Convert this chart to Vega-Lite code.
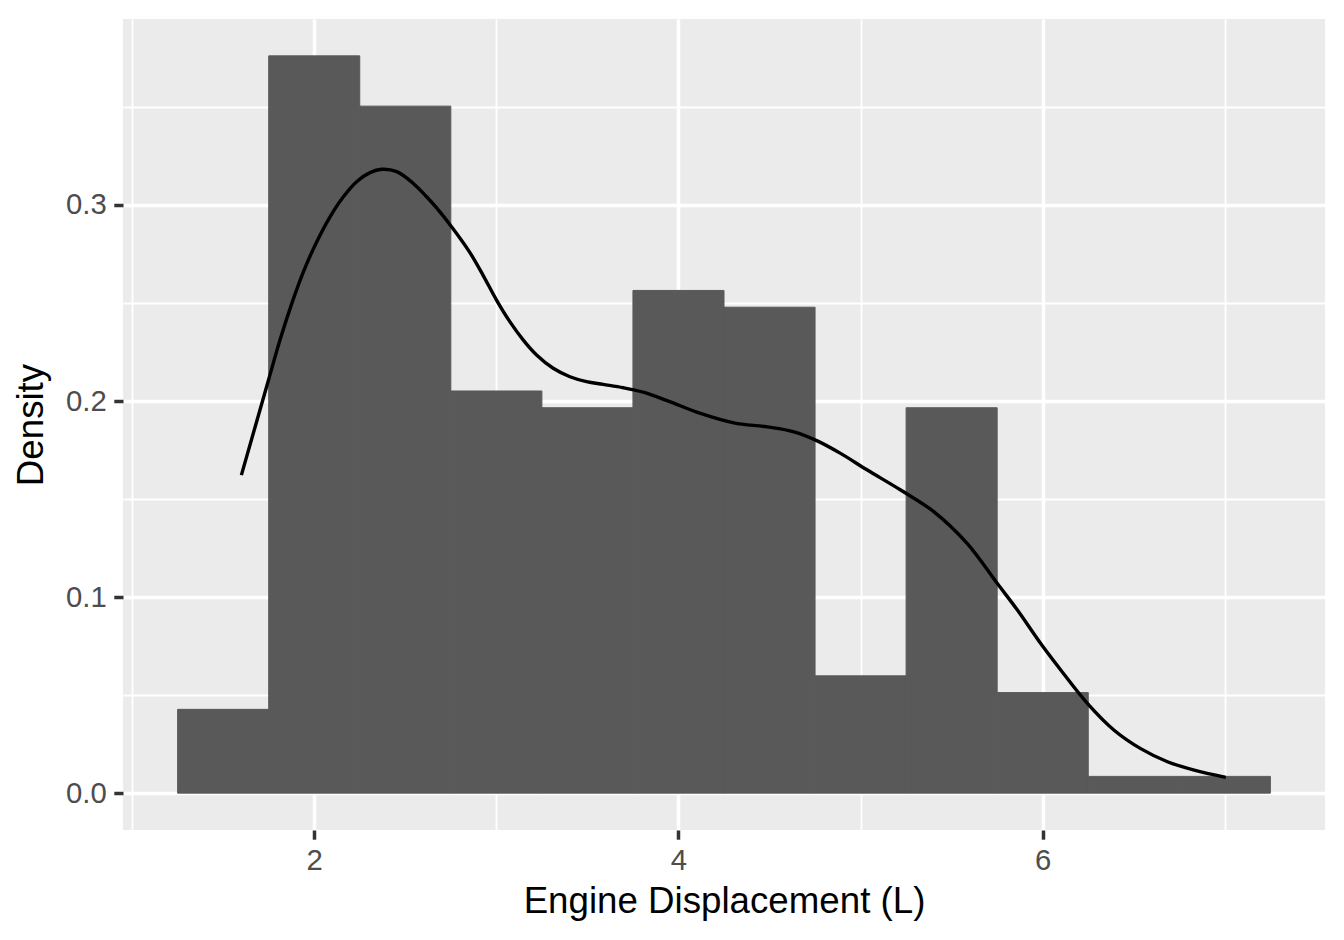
{
  "$schema": "https://vega.github.io/schema/vega-lite/v6.json",
  "width": 1202,
  "height": 811,
  "autosize": "none",
  "padding": {"left": 123, "top": 19, "right": 19, "bottom": 110},
  "background": "white",
  "config": {
    "view": {"fill": "#EBEBEB", "stroke": null},
    "font": "Liberation Sans"
  },
  "datasets": {
    "bins": [
      {"start": 1.25, "end": 1.75, "density": 0.042735},
      {"start": 1.75, "end": 2.25, "density": 0.376068},
      {"start": 2.25, "end": 2.75, "density": 0.350427},
      {"start": 2.75, "end": 3.25, "density": 0.205128},
      {"start": 3.25, "end": 3.75, "density": 0.196581},
      {"start": 3.75, "end": 4.25, "density": 0.256410},
      {"start": 4.25, "end": 4.75, "density": 0.247863},
      {"start": 4.75, "end": 5.25, "density": 0.059829},
      {"start": 5.25, "end": 5.75, "density": 0.196581},
      {"start": 5.75, "end": 6.25, "density": 0.051282},
      {"start": 6.25, "end": 6.75, "density": 0.008547},
      {"start": 6.75, "end": 7.25, "density": 0.008547}
    ],
    "kde": [
      {"displ": 1.6, "density": 0.1622},
      {"displ": 1.749, "density": 0.2107},
      {"displ": 1.812, "density": 0.2311},
      {"displ": 1.877, "density": 0.2498},
      {"displ": 1.941, "density": 0.2660},
      {"displ": 2.014, "density": 0.2813},
      {"displ": 2.087, "density": 0.2940},
      {"displ": 2.160, "density": 0.3042},
      {"displ": 2.233, "density": 0.3119},
      {"displ": 2.306, "density": 0.3165},
      {"displ": 2.370, "density": 0.3182},
      {"displ": 2.453, "density": 0.3170},
      {"displ": 2.544, "density": 0.3110},
      {"displ": 2.617, "density": 0.3042},
      {"displ": 2.672, "density": 0.2985},
      {"displ": 2.754, "density": 0.2889},
      {"displ": 2.855, "density": 0.2757},
      {"displ": 2.928, "density": 0.2640},
      {"displ": 3.001, "density": 0.2515},
      {"displ": 3.074, "density": 0.2405},
      {"displ": 3.148, "density": 0.2311},
      {"displ": 3.221, "density": 0.2235},
      {"displ": 3.312, "density": 0.2167},
      {"displ": 3.404, "density": 0.2124},
      {"displ": 3.495, "density": 0.2099},
      {"displ": 3.587, "density": 0.2085},
      {"displ": 3.697, "density": 0.2068},
      {"displ": 3.806, "density": 0.2045},
      {"displ": 3.938, "density": 0.2002},
      {"displ": 4.121, "density": 0.1937},
      {"displ": 4.304, "density": 0.1889},
      {"displ": 4.487, "density": 0.1868},
      {"displ": 4.634, "density": 0.1843},
      {"displ": 4.762, "density": 0.1797},
      {"displ": 4.890, "density": 0.1733},
      {"displ": 5.037, "density": 0.1648},
      {"displ": 5.220, "density": 0.1546},
      {"displ": 5.403, "density": 0.1435},
      {"displ": 5.586, "density": 0.1273},
      {"displ": 5.751, "density": 0.1069},
      {"displ": 5.861, "density": 0.0934},
      {"displ": 5.989, "density": 0.0763},
      {"displ": 6.099, "density": 0.0628},
      {"displ": 6.245, "density": 0.0458},
      {"displ": 6.392, "density": 0.0321},
      {"displ": 6.538, "density": 0.0227},
      {"displ": 6.685, "density": 0.0160},
      {"displ": 6.832, "density": 0.0117},
      {"displ": 7.005, "density": 0.0080}
    ]
  },
  "layer": [
    {
      "data": {"name": "bins"},
      "mark": {"type": "rect", "color": "#595959", "stroke": "#595959", "strokeWidth": 1},
      "encoding": {
        "x": {
          "field": "start",
          "type": "quantitative",
          "scale": {"domain": [0.95, 7.55], "nice": false, "zero": false},
          "axis": {
            "title": "Engine Displacement (L)",
            "values": [1, 2, 3, 4, 5, 6, 7],
            "labelExpr": "datum.value % 2 == 0 ? format(datum.value, 'd') : ''",
            "domain": false,
            "grid": true,
            "gridColor": "white",
            "gridOpacity": 1,
            "gridWidth": {"condition": {"test": "datum.value % 2 == 0", "value": 3.5}, "value": 1.8},
            "ticks": true,
            "tickColor": "#333333",
            "tickSize": 9.2,
            "tickWidth": 3.5,
            "tickOpacity": {"condition": {"test": "datum.value % 2 == 0", "value": 1}, "value": 0},
            "labelFontSize": 29.3,
            "labelColor": "#4D4D4D",
            "labelPadding": 7,
            "labelFont": "Liberation Sans",
            "titleFont": "Liberation Sans",
            "titleFontSize": 36.7,
            "titleFontWeight": "normal",
            "titleColor": "#000000",
            "titleBaseline": "alphabetic",
            "titleY": 82,
            "titleX": 601
          }
        },
        "x2": {"field": "end"},
        "y": {
          "field": "density",
          "type": "quantitative",
          "scale": {"domain": [-0.018803, 0.394872], "nice": false, "zero": false},
          "axis": {
            "title": "Density",
            "values": [0, 0.05, 0.1, 0.15, 0.2, 0.25, 0.3, 0.35],
            "labelExpr": "round(datum.value*100) % 10 == 0 ? format(datum.value, '.1f') : ''",
            "domain": false,
            "grid": true,
            "gridColor": "white",
            "gridOpacity": 1,
            "gridWidth": {"condition": {"test": "round(datum.value*100) % 10 == 0", "value": 3.5}, "value": 1.8},
            "ticks": true,
            "tickColor": "#333333",
            "tickSize": 9.2,
            "tickWidth": 3.5,
            "tickOpacity": {"condition": {"test": "round(datum.value*100) % 10 == 0", "value": 1}, "value": 0},
            "labelFontSize": 29.3,
            "labelColor": "#4D4D4D",
            "labelPadding": 7.5,
            "labelFont": "Liberation Sans",
            "titleFont": "Liberation Sans",
            "titleFontSize": 36.7,
            "titleFontWeight": "normal",
            "titleColor": "#000000",
            "titleBaseline": "alphabetic",
            "titleAngle": -90,
            "titleX": -81,
            "titleY": 405.5
          }
        },
        "y2": {"datum": 0}
      }
    },
    {
      "data": {"name": "kde"},
      "mark": {"type": "line", "color": "#000000", "strokeWidth": 3.4, "interpolate": "catmull-rom"},
      "encoding": {
        "x": {"field": "displ", "type": "quantitative"},
        "y": {"field": "density", "type": "quantitative"}
      }
    }
  ]
}
